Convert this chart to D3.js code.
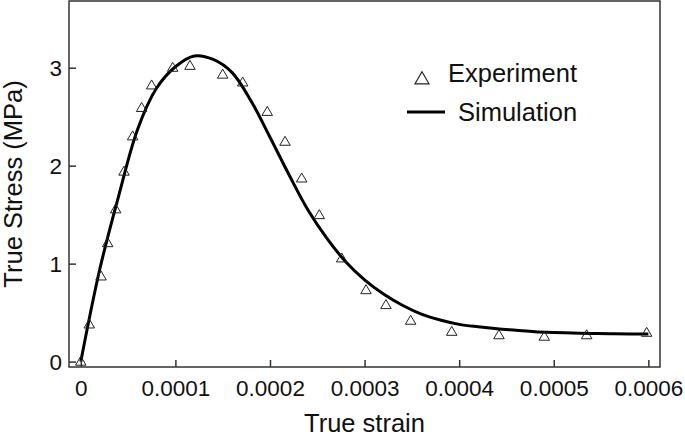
<!DOCTYPE html>
<html>
<head>
<meta charset="utf-8">
<script src="https://cdn.jsdelivr.net/npm/d3@7"></script>
<style>
  html, body { margin: 0; padding: 0; background: #fff; }
  svg { display: block; font-family: "Liberation Sans", Arial, sans-serif; }
</style>
</head>
<body>
<svg id="chart" width="685" height="438"></svg>
<script>
// ---- Data ----
const expStrain = [0, 0.0000090, 0.0000214, 0.0000284, 0.0000369, 0.0000457, 0.0000548, 0.0000643,
  0.0000749, 0.0000971, 0.0001154, 0.0001500, 0.0001711, 0.0001971, 0.0002159, 0.0002335,
  0.0002521, 0.0002758, 0.0003015, 0.0003226, 0.0003487, 0.0003921, 0.0004421, 0.0004900,
  0.0005348, 0.0005982];
const expStress = [0, 0.38, 0.87, 1.21, 1.555, 1.94, 2.30, 2.59,
  2.82, 3.00, 3.02, 2.93, 2.85, 2.55, 2.245, 1.87,
  1.496, 1.054, 0.73, 0.578, 0.418, 0.305, 0.27, 0.255,
  0.27, 0.295];

const simStrain = [0, 0.00002, 0.00004, 0.00006, 0.00008, 0.00010, 0.00012, 0.00014, 0.00016,
  0.00018, 0.00020, 0.00022, 0.00024, 0.00026, 0.00028, 0.00030, 0.00032, 0.00034,
  0.00036, 0.00038, 0.00040, 0.00042, 0.00044, 0.00046, 0.00048, 0.00050, 0.00052,
  0.00054, 0.00056, 0.00058, 0.00060];
const simStress = [0, 0.94, 1.69, 2.37, 2.79, 3.01, 3.12, 3.085, 2.95,
  2.66, 2.29, 1.91, 1.55, 1.26, 1.02, 0.835, 0.69, 0.575,
  0.485, 0.425, 0.38, 0.355, 0.335, 0.32, 0.305, 0.297, 0.292,
  0.288, 0.285, 0.283, 0.282];

const xTicks = [0, 0.0001, 0.0002, 0.0003, 0.0004, 0.0005, 0.0006];
const xTickLabels = ["0", "0.0001", "0.0002", "0.0003", "0.0004", "0.0005", "0.0006"];
const yTicks = [0, 1, 2, 3];
const yTickLabels = ["0", "1", "2", "3"];
const xTitle = "True strain";
const yTitle = "True Stress (MPa)";
const legendLabels = ["Experiment", "Simulation"];

// ---- Layout ----
const svg = d3.select("#chart");
const L = 69, R = 660, T = 1, B = 367;

const x = d3.scaleLinear().domain([-0.00001247, 0.0006123]).range([L, R]);
const y = d3.scaleLinear().domain([-0.0551, 3.681]).range([B, T]);

const frameColor = "#333";

// Data line
const line = d3.line()
  .x((d, i) => x(simStrain[i]))
  .y((d, i) => y(simStress[i]))
  .curve(d3.curveCatmullRom.alpha(0.5));

svg.append("path")
  .datum(simStress)
  .attr("d", line)
  .attr("fill", "none")
  .attr("stroke", "#000")
  .attr("stroke-width", 3)
  .attr("stroke-linejoin", "round");

// Triangles
const tri = (cx, cy, w, h) => {
  return `M${cx},${cy - h * 0.6}L${cx + w / 2},${cy + h * 0.4}L${cx - w / 2},${cy + h * 0.4}Z`;
};
svg.append("g").selectAll("path")
  .data(expStress)
  .join("path")
  .attr("d", (d, i) => tri(x(expStrain[i]), y(d), 10.5, 9))
  .attr("fill", "none")
  .attr("stroke", "#222")
  .attr("stroke-width", 1);

// Frame
svg.append("rect")
  .attr("x", L).attr("y", T)
  .attr("width", R - L).attr("height", B - T)
  .attr("fill", "none")
  .attr("stroke", frameColor)
  .attr("stroke-width", 1.5);

// X axis (ticks inward)
const xAxis = d3.axisBottom(x)
  .tickValues(xTicks)
  .tickSize(-7)
  .tickSizeOuter(0)
  .tickFormat((d, i) => xTickLabels[i]);
const gx = svg.append("g").attr("transform", `translate(0,${B})`).call(xAxis);
gx.select(".domain").remove();
gx.selectAll(".tick line").attr("stroke", frameColor).attr("stroke-width", 1.5);
gx.selectAll(".tick text")
  .attr("font-size", 22.5)
  .attr("fill", "#111")
  .attr("font-family", "Liberation Sans, Arial, sans-serif")
  .attr("y", 28.5).attr("dy", null);

// Y axis (ticks inward)
const yAxis = d3.axisLeft(y)
  .tickValues(yTicks)
  .tickSize(-7)
  .tickSizeOuter(0)
  .tickFormat((d, i) => yTickLabels[i]);
const gy = svg.append("g").attr("transform", `translate(${L},0)`).call(yAxis);
gy.select(".domain").remove();
gy.selectAll(".tick line").attr("stroke", frameColor).attr("stroke-width", 1.5);
gy.selectAll(".tick text")
  .attr("font-size", 22.5)
  .attr("fill", "#111")
  .attr("font-family", "Liberation Sans, Arial, sans-serif")
  .attr("x", -7).attr("dy", "0.35em");

// Axis titles
svg.append("text")
  .attr("x", (L + R) / 2).attr("y", 432)
  .attr("text-anchor", "middle")
  .attr("font-size", 25.5)
  .attr("fill", "#111")
  .text(xTitle);

svg.append("text")
  .attr("transform", `translate(22,${(T + B) / 2}) rotate(-90)`)
  .attr("text-anchor", "middle")
  .attr("font-size", 25.5)
  .attr("fill", "#111")
  .text(yTitle);

// Legend
const lg = svg.append("g");
lg.append("path")
  .attr("d", tri(422, 79, 14, 12))
  .attr("fill", "none").attr("stroke", "#222").attr("stroke-width", 1.2);
lg.append("text")
  .attr("x", 448).attr("y", 82)
  .attr("font-size", 25.5).attr("fill", "#111")
  .text(legendLabels[0]);
lg.append("line")
  .attr("x1", 407).attr("x2", 445).attr("y1", 112).attr("y2", 112)
  .attr("stroke", "#000").attr("stroke-width", 3);
lg.append("text")
  .attr("x", 458).attr("y", 121)
  .attr("font-size", 25.5).attr("fill", "#111")
  .text(legendLabels[1]);
</script>
</body>
</html>
